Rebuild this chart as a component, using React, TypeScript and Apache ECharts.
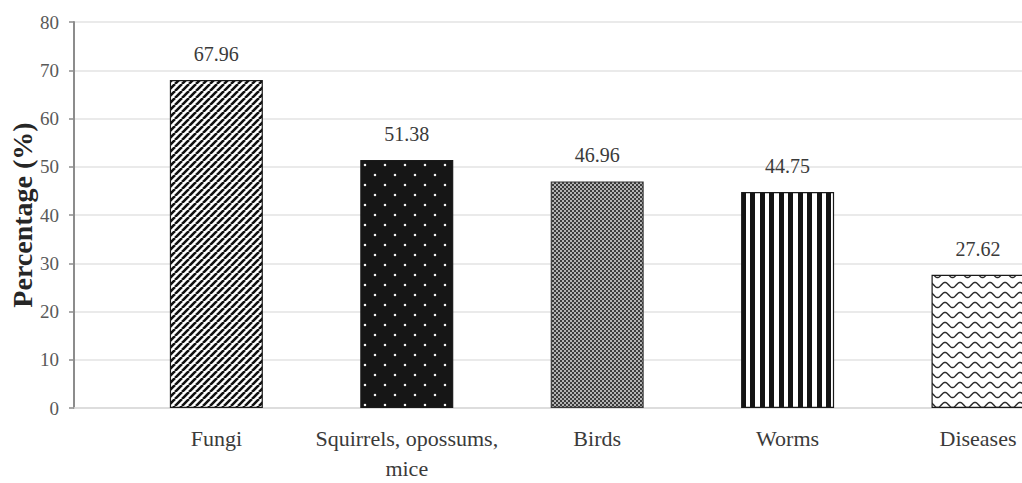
import React, { useEffect, useRef } from 'react';
import * as echarts from 'echarts';

const categories = ['Fungi', 'Squirrels, opossums,\nmice', 'Birds', 'Worms', 'Diseases'];
const values = [67.96, 51.38, 46.96, 44.75, 27.62];
const categoryPositions = [0, 1, 2, 3, 4];
const yAxisTitle = 'Percentage (%)';

const FONT = '"Liberation Serif", "Times New Roman", serif';

function tile(w: number, h: number, draw: (ctx: CanvasRenderingContext2D) => void) {
  const c = document.createElement('canvas');
  c.width = w;
  c.height = h;
  const ctx = c.getContext('2d') as CanvasRenderingContext2D;
  draw(ctx);
  return { image: c, repeat: 'repeat', imageWidth: w, imageHeight: h } as any;
}

function makePatterns() {
  const diag = tile(7, 7, (ctx) => {
    ctx.fillStyle = '#ffffff';
    ctx.fillRect(0, 0, 7, 7);
    ctx.strokeStyle = '#111111';
    ctx.lineWidth = 2.6;
    ctx.beginPath();
    for (let k = -1; k <= 1; k++) {
      ctx.moveTo(k * 7, 7);
      ctx.lineTo(k * 7 + 7, 0);
    }
    ctx.stroke();
  });
  const dots = tile(20, 20, (ctx) => {
    ctx.fillStyle = '#161616';
    ctx.fillRect(0, 0, 20, 20);
    ctx.fillStyle = '#f2f2f2';
    ctx.beginPath();
    ctx.arc(5, 5, 1.3, 0, Math.PI * 2);
    ctx.arc(15, 15, 1.3, 0, Math.PI * 2);
    ctx.fill();
  });
  const check = tile(4, 4, (ctx) => {
    ctx.fillStyle = '#b4b4b4';
    ctx.fillRect(0, 0, 4, 4);
    ctx.fillStyle = '#3c3c3c';
    ctx.fillRect(0, 0, 2, 2);
    ctx.fillRect(2, 2, 2, 2);
  });
  const vert = tile(19, 4, (ctx) => {
    ctx.fillStyle = '#ffffff';
    ctx.fillRect(0, 0, 19, 4);
    ctx.fillStyle = '#141414';
    ctx.fillRect(0, 0, 5, 4);
    ctx.fillRect(9, 0, 5, 4);
  });
  const wave = tile(15, 10, (ctx) => {
    ctx.fillStyle = '#ffffff';
    ctx.fillRect(0, 0, 15, 10);
    ctx.strokeStyle = '#2a2a2a';
    ctx.lineWidth = 1.5;
    ctx.beginPath();
    for (let x = -2; x <= 17; x += 0.5) {
      const y = 5 - 2.6 * Math.cos((2 * Math.PI * x) / 15);
      if (x === -2) ctx.moveTo(x, y);
      else ctx.lineTo(x, y);
    }
    ctx.stroke();
  });
  return [diag, dots, check, vert, wave];
}

export default function App() {
  const ref = useRef<HTMLDivElement>(null);
  useEffect(() => {
    document.body.style.margin = '0';
    if (!ref.current) return;
    const chart = echarts.init(ref.current, undefined, { renderer: 'svg' });
    const patterns = makePatterns();
    const borders = ['#1a1a1a', '#1a1a1a', '#3a3a3a', '#1a1a1a', '#1a1a1a'];
    chart.setOption({
      animation: false,
      backgroundColor: '#ffffff',
      grid: { left: 74, right: 0, top: 22, bottom: 75, containLabel: false, outerBoundsMode: 'none' },
      xAxis: {
        type: 'value',
        min: -0.7476,
        max: 4.231,
        axisLine: { show: true, onZero: false, lineStyle: { color: '#d9d9d9', width: 1.5 } },
        axisTick: { show: false },
        splitLine: { show: false },
        axisLabel: {
          customValues: categoryPositions,
          formatter: (v: number) => categories[Math.round(v)],
          fontFamily: FONT,
          fontSize: 22,
          color: '#3a3a3a',
          lineHeight: 30,
          margin: 15,
        },
      },
      yAxis: {
        type: 'value',
        min: 0,
        max: 80,
        interval: 10,
        name: yAxisTitle,
        nameLocation: 'middle',
        nameGap: 38,
        nameMoveOverlap: false,
        nameTextStyle: { fontFamily: FONT, fontSize: 28, fontWeight: 'bold', color: '#262626' },
        axisLine: { show: true, onZero: false, lineStyle: { color: '#8c8c8c', width: 2 } },
        axisTick: { show: true, length: 5, lineStyle: { color: '#8c8c8c', width: 1.5 } },
        splitLine: { show: true, lineStyle: { color: '#e3e3e3', width: 1.5 } },
        axisLabel: { fontFamily: FONT, fontSize: 19, color: '#595959', margin: 15 },
      },
      series: [
        {
          type: 'bar',
          barWidth: 93,
          data: values.map((v, i) => ({
            value: [categoryPositions[i], v],
            itemStyle: { color: patterns[i], borderColor: borders[i], borderWidth: 1.2 },
          })),
          label: {
            show: true,
            position: 'top',
            distance: 16,
            fontFamily: FONT,
            fontSize: 20,
            color: '#3a3a3a',
            formatter: (p: any) => p.value[1].toFixed(2),
          },
        },
      ],
    });
    return () => chart.dispose();
  }, []);
  return <div ref={ref} style={{ width: 1022, height: 483 }} />;
}
